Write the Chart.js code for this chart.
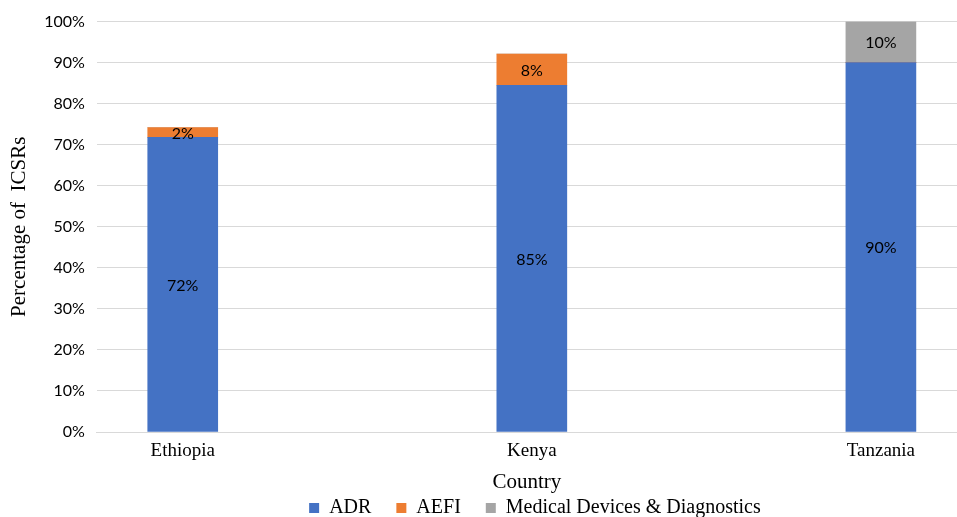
<!DOCTYPE html>
<html lang="en">
<head>
    <meta charset="UTF-8">
    <title>ICSRs by Country</title>
    <style>
        body { margin: 0; background: #ffffff; }
        .wrap { width: 957px; height: 517px; position: relative; }
    </style>
</head>
<body>
    <div class="wrap"><canvas id="chart"></canvas></div>

    <script src="https://cdn.jsdelivr.net/npm/chart.js"></script>
    <script>
        const countries = ['Ethiopia', 'Kenya', 'Tanzania'];
        const adr = [71.8, 84.5, 90];
        const aefi = [2.4, 7.6, 0];
        const medical = [0, 0, 10];
        const yTicks = [0, 10, 20, 30, 40, 50, 60, 70, 80, 90, 100];

        const serif = '"Liberation Serif", "Times New Roman", serif';
        const toPoints = vals => vals.map((v, i) => ({ x: i, y: v }));

        // small inline replacement for the datalabels plugin
        const barLabels = {
            id: 'barLabels',
            afterDatasetsDraw(chart) {
                const ctx = chart.ctx;
                ctx.save();
                ctx.font = '16px Lato, sans-serif';
                ctx.fillStyle = '#000000';
                ctx.textAlign = 'center';
                ctx.textBaseline = 'middle';
                chart.data.datasets.forEach((ds, di) => {
                    const meta = chart.getDatasetMeta(di);
                    meta.data.forEach((bar, i) => {
                        const v = ds.data[i].y;
                        if (!v) return;
                        const mid = (bar.y + bar.base) / 2;
                        ctx.fillText(Math.round(v) + '%', bar.x, mid + 1);
                    });
                });
                ctx.restore();
            }
        };

        // Excel centres the legend under the plot area, and packs it tight to the bottom
        const legendShift = {
            id: 'legendShift',
            afterLayout(chart) {
                const lg = chart.legend;
                const area = chart.chartArea;
                const dx = (area.left + area.right) / 2 - (lg.left + lg.right) / 2 + 8;
                lg.left += dx;
                lg.right += dx;
                lg.top -= 22;
                lg.bottom = chart.height;
            }
        };

        new Chart(document.getElementById('chart').getContext('2d'), {
            type: 'bar',
            data: {
                datasets: [
                    { label: 'ADR', data: toPoints(adr), backgroundColor: '#4472C4' },
                    { label: 'AEFI', data: toPoints(aefi), backgroundColor: '#ED7D31' },
                    { label: 'Medical Devices & Diagnostics', data: toPoints(medical), backgroundColor: '#A5A5A5' }
                ]
            },
            options: {
                responsive: true,
                maintainAspectRatio: false,
                animation: false,
                barThickness: 70,
                layout: { padding: { top: 12, right: 0, bottom: 0, left: 7 } },
                plugins: {
                    tooltip: { enabled: false },
                    legend: {
                        position: 'bottom',
                        maxHeight: 22,
                        labels: {
                            boxWidth: 10,
                            boxHeight: 10,
                            padding: 25,
                            color: '#000000',
                            font: { family: serif, size: 20 }
                        }
                    }
                },
                scales: {
                    x: {
                        type: 'linear',
                        stacked: true,
                        offset: false,
                        min: -0.246,
                        max: 2.218,
                        afterBuildTicks: axis => {
                            axis.ticks = countries.map((c, i) => ({ value: i }));
                        },
                        ticks: {
                            color: '#000000',
                            padding: 0,
                            maxRotation: 0,
                            font: { family: serif, size: 19 },
                            callback: v => countries[v] || ''
                        },
                        grid: { display: false },
                        border: { display: true, color: '#d9d9d9' },
                        title: {
                            display: true,
                            text: 'Country',
                            color: '#000000',
                            padding: { top: 7, bottom: 0 },
                            font: { family: serif, size: 21 }
                        }
                    },
                    y: {
                        stacked: true,
                        min: 0,
                        max: 100,
                        afterBuildTicks: axis => {
                            axis.ticks = yTicks.map(v => ({ value: v }));
                        },
                        ticks: {
                            color: '#000000',
                            padding: 12,
                            font: { family: 'Lato, sans-serif', size: 16 },
                            callback: v => v + '%'
                        },
                        grid: { color: '#d9d9d9', drawTicks: false },
                        border: { display: false },
                        title: {
                            display: true,
                            text: 'Percentage of  ICSRs',
                            color: '#000000',
                            padding: { top: 0, bottom: 0 },
                            font: { family: serif, size: 21 }
                        }
                    }
                }
            },
            plugins: [barLabels, legendShift]
        });
    </script>
</body>
</html>
